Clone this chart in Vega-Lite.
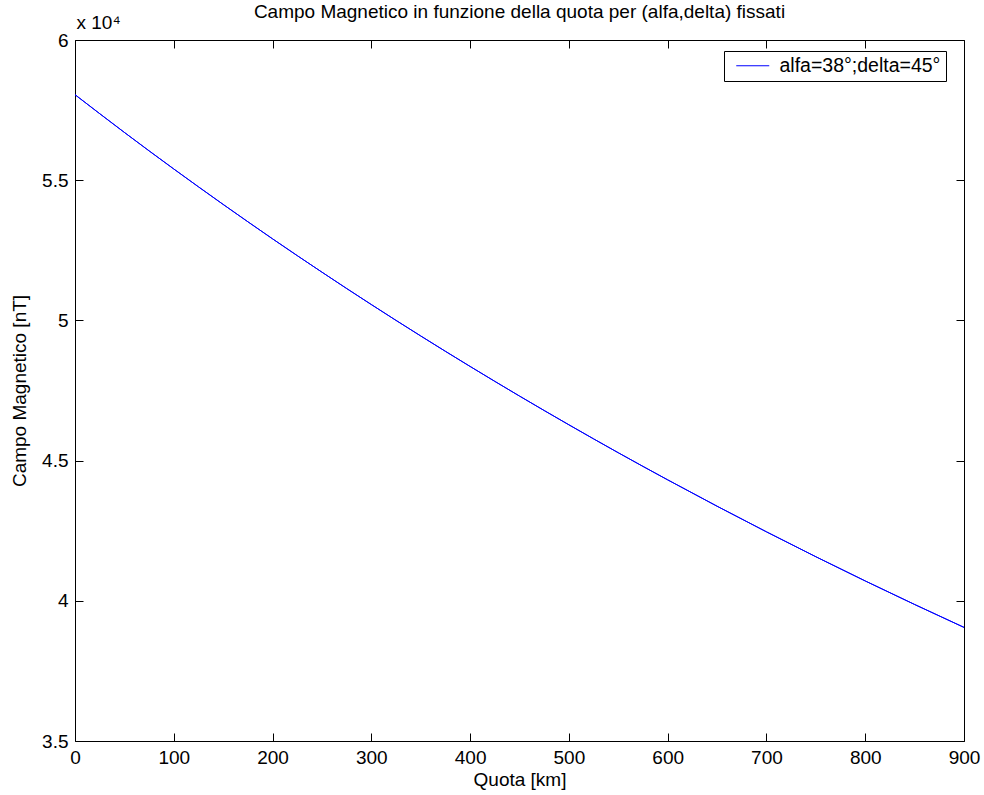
{
  "$schema": "https://vega.github.io/schema/vega-lite/v6.json",
  "width": 889,
  "height": 701,
  "autosize": {"type": "none"},
  "padding": {"left": 75, "top": 40, "right": 20, "bottom": 54},
  "background": "white",
  "config": {
    "font": "Liberation Sans",
    "view": {"stroke": null},
    "axis": {"grid": false, "domainColor": "black", "tickColor": "black", "labelColor": "black", "titleColor": "black", "labelFont": "Liberation Sans", "titleFont": "Liberation Sans", "labelFontSize": 19, "titleFontSize": 19, "titleFontWeight": "normal", "tickSize": -8, "domainWidth": 1, "tickWidth": 1, "labelFlush": false, "labelOverlap": false}
  },
  "title": {"text": "Campo Magnetico in funzione della quota per (alfa,delta) fissati", "fontSize": 19, "fontWeight": "normal", "font": "Liberation Sans", "anchor": "middle", "offset": -9, "color": "black"},
  "data": {"values": [
    {"h": 0, "B": 58050},
    {"h": 50, "B": 56704},
    {"h": 100, "B": 55400},
    {"h": 150, "B": 54136},
    {"h": 200, "B": 52909},
    {"h": 250, "B": 51720},
    {"h": 300, "B": 50565},
    {"h": 350, "B": 49445},
    {"h": 400, "B": 48358},
    {"h": 450, "B": 47302},
    {"h": 500, "B": 46277},
    {"h": 550, "B": 45280},
    {"h": 600, "B": 44314},
    {"h": 650, "B": 43374},
    {"h": 700, "B": 42460},
    {"h": 750, "B": 41572},
    {"h": 800, "B": 40708},
    {"h": 850, "B": 39869},
    {"h": 900, "B": 39052}
  ]},
  "layer": [
    {
      "mark": {"type": "line", "interpolate": "monotone", "strokeWidth": 1},
      "encoding": {
        "x": {"field": "h", "type": "quantitative", "scale": {"domain": [0, 900], "nice": false, "zero": false},
              "axis": {"orient": "bottom", "title": "Quota [km]", "values": [0,100,200,300,400,500,600,700,800,900], "labelPadding": 15, "titlePadding": 3}},
        "y": {"field": "B", "type": "quantitative", "scale": {"domain": [35000, 60000], "nice": false, "zero": false},
              "axis": {"orient": "left", "title": "Campo Magnetico [nT]", "values": [35000,40000,45000,50000,55000,60000], "labelExpr": "format(datum.value/10000, '~g')", "labelPadding": 15, "titlePadding": 12}},
        "color": {"datum": "alfa=38°;delta=45°", "type": "nominal", "scale": {"range": ["#0000ff"]},
                  "legend": {"title": null, "orient": "none", "legendX": 649, "legendY": 11, "strokeColor": "black", "fillColor": "white", "padding": 5, "symbolType": "M-3,0H3", "symbolSize": 121, "symbolStrokeWidth": 1, "symbolOffset": 14, "labelOffset": 17, "labelFontSize": 19.5, "labelLimit": 400, "labelFont": "Liberation Sans", "labelColor": "black", "cornerRadius": 0}}
      }
    },
    {
      "mark": {"type": "line", "interpolate": "monotone", "strokeWidth": 1, "color": "#0000ff"},
      "encoding": {
        "x": {"field": "h", "type": "quantitative", "axis": {"orient": "top", "title": "x 10⁴", "titleAnchor": "start", "titleAlign": "left", "titleX": 1, "titleY": -8, "titleFontSize": 19, "labels": false, "values": [0,100,200,300,400,500,600,700,800,900]}},
        "y": {"field": "B", "type": "quantitative", "axis": {"orient": "right", "title": null, "labels": false, "values": [35000,40000,45000,50000,55000,60000]}}
      }
    }
  ],
  "resolve": {"axis": {"x": "independent", "y": "independent"}}
}
